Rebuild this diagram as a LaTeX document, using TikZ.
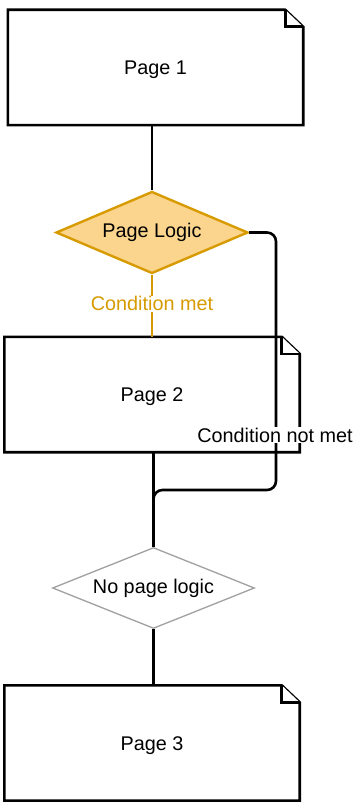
\documentclass[tikz,border=0pt]{standalone}
\usepackage{fontspec}
\setmainfont{Liberation Sans}
\usetikzlibrary{shapes.geometric,calc}
\definecolor{orstroke}{HTML}{D79B00}
\definecolor{orfill}{HTML}{FBD58E}
\definecolor{graystroke}{HTML}{A0A0A0}
\tikzset{
  txt/.style={font=\fontsize{19.8}{22}\selectfont, inner sep=0pt},
  pagetxt/.style={txt, yshift=-2.5pt},
  pagebox/.style={txt, minimum width=295pt, minimum height=115pt},
  pageline/.style={line width=2.6pt, line join=miter, fill=white},
  decision/.style={txt, shape=diamond, draw, inner sep=0pt},
  conn/.style={line width=2.6pt},
  orconn/.style={line width=2.6pt, draw=orstroke},
  lbl/.style={txt, fill=white, inner sep=1pt},
}
\newcommand{\pageshape}[1]{%
  \draw[pageline] (#1.north west) -- ($(#1.north east)+(-18,0)$) -- ($(#1.north east)+(0,17)$) -- (#1.south east) -- (#1.south west) -- cycle;
  \draw[pageline] ($(#1.north east)+(-18,0)$) -- ($(#1.north east)+(-18,17)$) -- ($(#1.north east)+(0,17)$);
}
\begin{document}
\begin{tikzpicture}[x=1pt,y=-1pt]
\path[use as bounding box] (0,0) rectangle (360,802);
\node[pagebox] (p1) at (155.5,67.5) {};
\pageshape{p1}
\node[pagetxt] (t1) at (p1) {Page 1};
\node[pagebox] (p2) at (152,394.5) {};
\pageshape{p2}
\node[pagetxt] (t2) at (p2) {Page 2};
\node[pagebox] (p3) at (152,743) {};
\pageshape{p3}
\node[pagetxt] (t3) at (p3) {Page 3};
% decisions
\node[decision, draw=orstroke, fill=orfill, line width=2.4pt, aspect=2.34, minimum width=192pt, minimum height=82pt] (d1) at (152,232.5) {Page Logic};
\node[decision, draw=graystroke, fill=white, line width=1.3pt, aspect=2.48, minimum width=202pt, minimum height=81pt] (d2) at (153.5,588) {No page logic};
% connectors
\draw[conn] (p1.south -| d1.north) -- (d1.north);
\draw[orconn] (d1.south) -- (d1.south |- p2.north) node[lbl, text=orstroke, pos=0.47] {Condition met};
\coordinate (c1) at (276,232.5);
\coordinate (c2) at (276,490);
\coordinate (c3) at (153.5,490);
\draw[conn, rounded corners=9pt] (d1.east) -- (c1) -- (c2) -- (c3) -- (d2.north);
\draw[conn] (p2.south -| d2.north) -- (d2.north);
\draw[conn] (d2.south) -- (d2.south |- p3.north);
\node[lbl] at (275,435) {Condition not met};
\end{tikzpicture}
\end{document}
